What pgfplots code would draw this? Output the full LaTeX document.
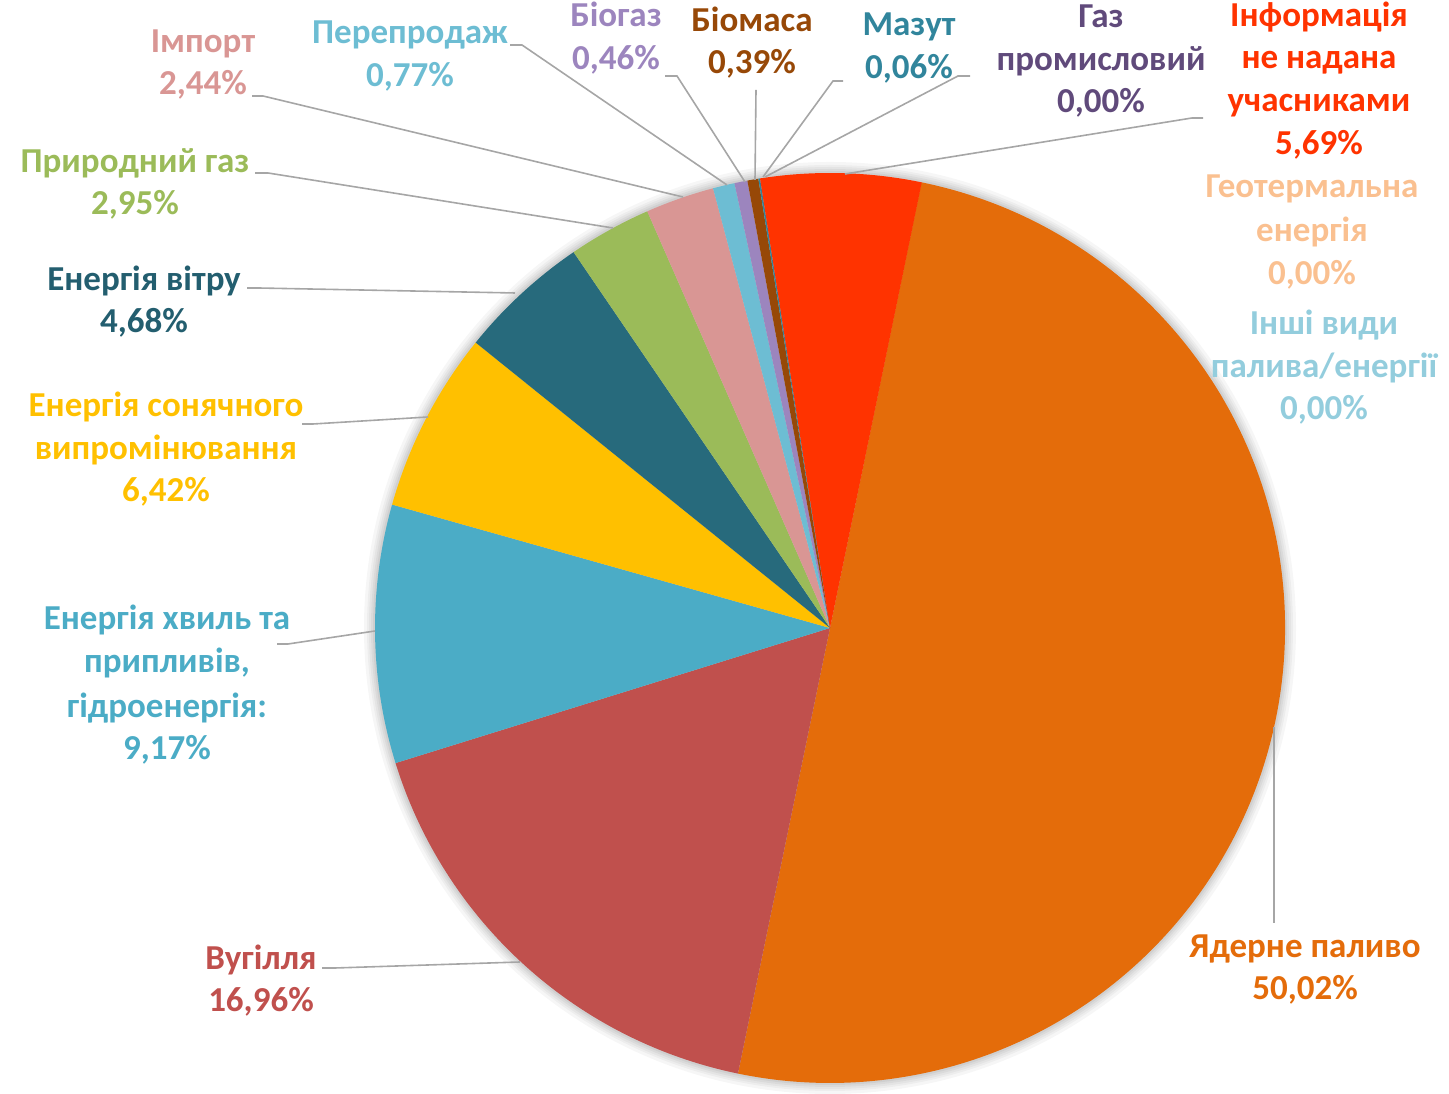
\documentclass[border=0pt]{standalone}
\usepackage{fontspec}
\setmainfont{Carlito}
\usepackage{pgfplots}
\pgfplotsset{compat=1.18}
\definecolor{cNuc}{HTML}{E46C0A}
\definecolor{cCoal}{HTML}{C0504D}
\definecolor{cHyd}{HTML}{4BACC6}
\definecolor{cSol}{HTML}{FFC000}
\definecolor{cWind}{HTML}{276A7C}
\definecolor{cWindT}{HTML}{235E6F}
\definecolor{cGas}{HTML}{9BBB59}
\definecolor{cImp}{HTML}{D99694}
\definecolor{cRes}{HTML}{6DBDD3}
\definecolor{cBiog}{HTML}{9C85BE}
\definecolor{cBiom}{HTML}{974807}
\definecolor{cMaz}{HTML}{31859C}
\definecolor{cGprom}{HTML}{604A7B}
\definecolor{cInfo}{HTML}{FF3300}
\definecolor{cGeo}{HTML}{FAC090}
\definecolor{cOth}{HTML}{93CDDD}
\definecolor{cLead}{HTML}{A6A6A6}
% pie: centre (830,460) in axis units (1 unit = 1pt), radius 455
\gdef\startA{78.4}
\newcommand\slice[2]{%
  \pgfmathsetmacro\endA{\startA-3.6*#2}%
  \edef\temp{\noexpand\fill[#1] (axis cs:830,460) -- ++(\startA:455pt) arc[start angle=\startA, end angle=\endA, radius=455pt] -- cycle;}%
  \temp
  \global\let\startA\endA
}
\newcommand\lb[4]{\node[anchor=base, text=#3, inner sep=0pt, font=\fontsize{35}{42}\selectfont\bfseries] at (axis cs:#1,{1088-#2}) {#4};}
\pgfplotsset{leader/.style={draw=cLead, line width=1.6pt, no markers, mark=none}}
\begin{document}
\begin{tikzpicture}
\begin{axis}[scale only axis, width=1449pt, height=1088pt,
  xmin=0, xmax=1449, ymin=0, ymax=1088, hide axis, clip=false]
\path (axis cs:0,0) rectangle (axis cs:1449,1088);
% soft shadow round the pie
\fill[black, opacity=0.035] (axis cs:830,460) circle[radius=466pt];
\fill[black, opacity=0.035] (axis cs:830,460) circle[radius=463pt];
\fill[black, opacity=0.04] (axis cs:830,460) circle[radius=461pt];
\fill[black, opacity=0.045] (axis cs:830,460) circle[radius=459pt];
\fill[black, opacity=0.05] (axis cs:830,460) circle[radius=457pt];
% slices, clockwise from the top
\slice{cNuc}{50.02}
\slice{cCoal}{16.96}
\slice{cHyd}{9.17}
\slice{cSol}{6.42}
\slice{cWind}{4.68}
\slice{cGas}{2.95}
\slice{cImp}{2.44}
\slice{cRes}{0.77}
\slice{cBiog}{0.46}
\slice{cBiom}{0.39}
\slice{cMaz}{0.06}
\slice{cGprom}{0.0001}
\slice{cInfo}{5.69}
% leader lines
\addplot[leader] coordinates {(252,992) (263,992) (683,891)};
\addplot[leader] coordinates {(510,1043) (522,1043) (727,903)};
\addplot[leader] coordinates {(665,1012) (677,1012) (745,906)};
\addplot[leader] coordinates {(756,998) (755,908)};
\addplot[leader] coordinates {(843,1007) (833,1007) (763,911)};
\addplot[leader] coordinates {(970,1012) (958,1012) (765,911)};
\addplot[leader] coordinates {(1203,970) (1192,970) (845,914)};
\addplot[leader] coordinates {(255,915) (268,915) (613,860)};
\addplot[leader] coordinates {(247,800) (258,800) (515,795)};
\addplot[leader] coordinates {(302,664) (313,664) (428,671)};
\addplot[leader] coordinates {(277,444) (288,444) (375,457)};
\addplot[leader] coordinates {(322,120) (335,120) (520,126)};
\addplot[leader] coordinates {(1274,361) (1274,165)};
% labels
\lb{203}{53}{cImp}{Імпорт}
\lb{203}{95}{cImp}{2,44\%}
\lb{410}{44}{cRes}{Перепродаж}
\lb{410}{87}{cRes}{0,77\%}
\lb{616}{27}{cBiog}{Біогаз}
\lb{616}{70}{cBiog}{0,46\%}
\lb{752}{32}{cBiom}{Біомаса}
\lb{752}{74}{cBiom}{0,39\%}
\lb{909}{36}{cMaz}{Мазут}
\lb{909}{79}{cMaz}{0,06\%}
\lb{1101}{28}{cGprom}{Газ}
\lb{1101}{71}{cGprom}{промисловий}
\lb{1101}{113}{cGprom}{0,00\%}
\lb{1319}{27}{cInfo}{Інформація}
\lb{1319}{69}{cInfo}{не надана}
\lb{1319}{112}{cInfo}{учасниками}
\lb{1319}{155}{cInfo}{5,69\%}
\lb{1312}{198}{cGeo}{Геотермальна}
\lb{1312}{242}{cGeo}{енергія}
\lb{1312}{285}{cGeo}{0,00\%}
\lb{1324}{335}{cOth}{Інші види}
\lb{1324}{378}{cOth}{палива/енергії}
\lb{1324}{420}{cOth}{0,00\%}
\lb{135}{173}{cGas}{Природний газ}
\lb{135}{215}{cGas}{2,95\%}
\lb{144}{291}{cWindT}{Енергія вітру}
\lb{144}{333}{cWindT}{4,68\%}
\lb{166}{417}{cSol}{Енергія сонячного}
\lb{166}{460}{cSol}{випромінювання}
\lb{166}{502}{cSol}{6,42\%}
\lb{167}{630}{cHyd}{Енергія хвиль та}
\lb{167}{673}{cHyd}{припливів,}
\lb{167}{718}{cHyd}{гідроенергія:}
\lb{167}{760}{cHyd}{9,17\%}
\lb{261}{970}{cCoal}{Вугілля}
\lb{261}{1012}{cCoal}{16,96\%}
\lb{1305}{958}{cNuc}{Ядерне паливо}
\lb{1305}{1000}{cNuc}{50,02\%}
\end{axis}
\end{tikzpicture}
\end{document}
